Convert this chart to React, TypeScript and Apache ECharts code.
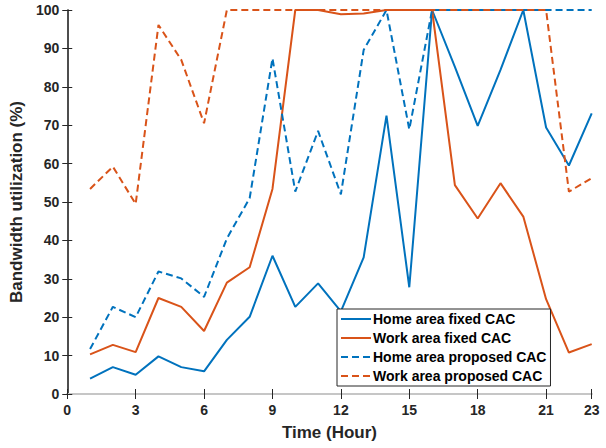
import React, { useEffect, useRef } from "react";
import * as echarts from "echarts";

const hours = [1, 2, 3, 4, 5, 6, 7, 8, 9, 10, 11, 12, 13, 14, 15, 16, 17, 18, 19, 20, 21, 22, 23];
const homeFixed = [4, 7, 5, 9.8, 7, 5.9, 14.1, 20.1, 36, 22.7, 28.8, 21.5, 35.6, 72.5, 27.8, 100, 85.2, 69.8, 84.4, 100, 69.4, 59.5, 73.1];
const workFixed = [10.3, 12.8, 10.9, 25, 22.7, 16.4, 29, 33, 53.4, 100, 100, 98.9, 99.1, 100, 100, 100, 54.4, 45.7, 54.9, 46.2, 24.7, 10.8, 13];
const homeProposed = [11.7, 22.7, 20, 31.9, 30.1, 25.3, 40.5, 51, 87.4, 52.7, 68.5, 52, 89.6, 100, 68.9, 100, 100, 100, 100, 100, 100, 100, 100];
const workProposed = [53.4, 59.2, 49.5, 96.1, 87, 70.5, 100, 100, 100, 100, 100, 100, 100, 100, 100, 100, 100, 100, 100, 100, 100, 52.7, 56.2];
const seriesNames = ["Home area fixed CAC", "Work area fixed CAC", "Home area proposed CAC", "Work area proposed CAC"];

const BLUE = "#0072BD";
const ORANGE = "#D95319";
const INK = "#262626";
const FRAME = "#c6c6c6";
const FONT = "Liberation Sans, Arial, sans-serif";

const pairs = (ys: number[]) => hours.map((h, i) => [h, ys[i]]);

export default function App() {
  const ref = useRef<HTMLDivElement>(null);
  useEffect(() => {
    if (!ref.current) return;
    const chart = echarts.init(ref.current, undefined, { renderer: "svg" });
    const softLine = { show: true, lineStyle: { color: FRAME, width: 2 } };
    const darkLine = { show: true, lineStyle: { color: INK, width: 1.5 } };
    const tick = { show: true, inside: true, length: 5, lineStyle: { color: INK } };
    const mkLine = (name: string, data: number[], color: string, dashed: boolean) => ({
      name,
      type: "line",
      data: pairs(data),
      symbol: "none",
      lineStyle: { color, width: 2, type: dashed ? [7, 4] : "solid" },
      itemStyle: { color },
      z: 2,
    });
    chart.setOption({
      animation: false,
      grid: { left: 66.7, right: 14.3, top: 10, bottom: 54, containLabel: false },
      xAxis: [
        {
          type: "value",
          min: 0,
          max: 23,
          interval: 3,
          name: "Time (Hour)",
          nameLocation: "middle",
          nameGap: 30,
          nameTextStyle: { fontFamily: FONT, fontWeight: "bold", fontSize: 17, color: INK },
          axisLine: softLine,
          axisTick: tick,
          splitLine: { show: false },
          axisLabel: {
            showMaxLabel: true,
            fontFamily: FONT,
            fontWeight: "bold",
            fontSize: 14,
            color: INK,
            margin: 9,
          },
        },
        {
          type: "value",
          position: "top",
          min: 0,
          max: 23,
          interval: 3,
          axisLine: softLine,
          axisTick: tick,
          axisLabel: { show: false },
          splitLine: { show: false },
        },
      ],
      yAxis: [
        {
          type: "value",
          min: 0,
          max: 100,
          interval: 10,
          name: "Bandwidth utilization (%)",
          nameLocation: "middle",
          nameGap: 31,
          nameTextStyle: { fontFamily: FONT, fontWeight: "bold", fontSize: 17, color: INK },
          axisLine: softLine,
          axisTick: tick,
          splitLine: { show: false },
          axisLabel: { fontFamily: FONT, fontWeight: "bold", fontSize: 14, color: INK, margin: 8 },
        },
        {
          type: "value",
          position: "right",
          min: 0,
          max: 100,
          interval: 10,
          axisLine: darkLine,
          axisTick: tick,
          axisLabel: { show: false },
          splitLine: { show: false },
        },
      ],
      legend: {
        orient: "vertical",
        left: 337,
        top: 309,
        data: seriesNames,
        backgroundColor: "#ffffff",
        borderColor: INK,
        borderWidth: 1,
        borderRadius: 0,
        padding: [3, 4, 3, 3],
        itemGap: 5,
        itemWidth: 30,
        itemHeight: 14,
        // plain line swatches: hide the marker the line series adds to its icon
        itemStyle: { color: "rgba(0,0,0,0)", borderWidth: 0, opacity: 0 },
        textStyle: { fontFamily: FONT, fontWeight: "bold", fontSize: 14, color: "#000", padding: [0, 0, 0, -3] },
      },
      series: [
        mkLine(seriesNames[0], homeFixed, BLUE, false),
        mkLine(seriesNames[1], workFixed, ORANGE, false),
        mkLine(seriesNames[2], homeProposed, BLUE, true),
        mkLine(seriesNames[3], workProposed, ORANGE, true),
      ],
    });
    return () => chart.dispose();
  }, []);
  return <div ref={ref} style={{ width: 606, height: 448, position: "absolute", left: 0, top: 0 }} />;
}
